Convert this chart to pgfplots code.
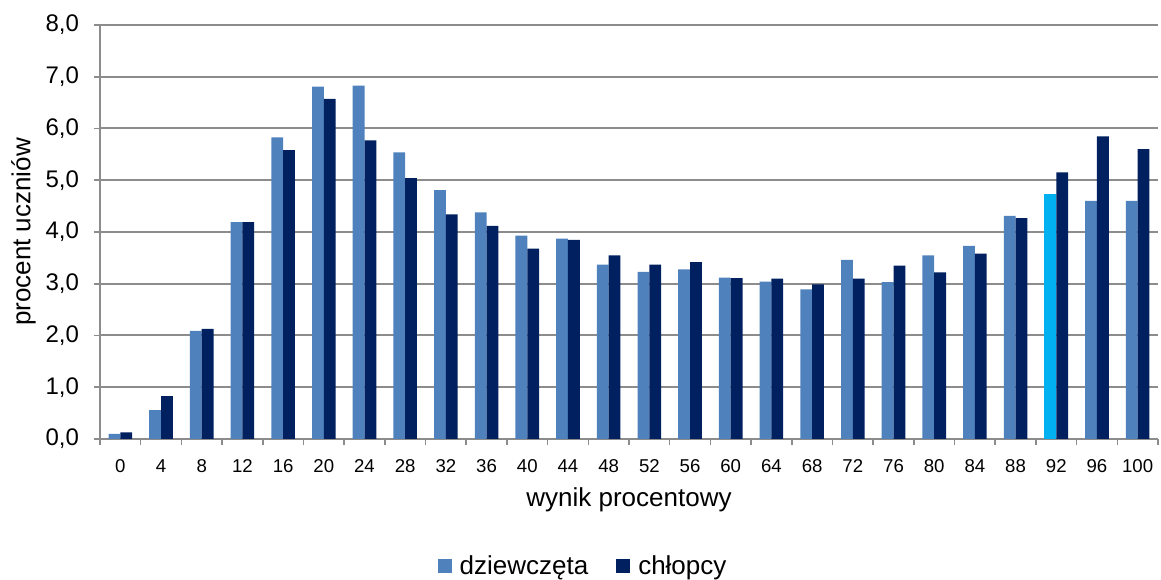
\documentclass[border=0pt]{standalone}
\usepackage{fontspec}
\setmainfont{Liberation Sans}
\usepackage{pgfplots}
\pgfplotsset{compat=1.18}
\usepackage{pgfplotstable}

\definecolor{girls}{HTML}{4F81BD}
\definecolor{boys}{HTML}{002060}
\definecolor{hilite}{HTML}{00B0F0}
\definecolor{gridc}{HTML}{8C8C8C}

% wynik, dziewczeta, chlopcy
\pgfplotstableread{
x  girls boys
0  0.10  0.13
1  0.56  0.83
2  2.09  2.13
3  4.19  4.19
4  5.83  5.58
5  6.81  6.57
6  6.83  5.77
7  5.54  5.04
8  4.81  4.34
9  4.38  4.12
10 3.93  3.68
11 3.87  3.85
12 3.37  3.55
13 3.23  3.37
14 3.28  3.42
15 3.12  3.11
16 3.04  3.10
17 2.89  2.99
18 3.46  3.10
19 3.03  3.35
20 3.55  3.22
21 3.73  3.58
22 4.31  4.27
23 4.73  5.15
24 4.60  5.85
25 4.60  5.60
}\wyniki

\begin{document}
\begin{tikzpicture}
\begin{axis}[
  scale only axis,
  width=529pt, height=207pt,
  xmin=-0.5, xmax=25.5,
  ymin=0, ymax=8,
  ytick={0,1,...,8},
  xtick={0,...,25},
  xticklabels={0,4,8,12,16,20,24,28,32,36,40,44,48,52,56,60,64,68,72,76,80,84,88,92,96,100},
  minor xtick={-0.5,0.5,...,25.5},
  major x tick style={draw=none},
  minor tick length=3pt,
  major tick length=3pt,
  tick align=outside,
  tick pos=left,
  tick style={gridc, line width=0.8pt},
  axis x line*=bottom,
  axis y line*=left,
  axis line style={gridc, line width=1pt},
  ymajorgrids,
  grid style={gridc, line width=1pt},
  yticklabel style={font=\fontsize{12}{14}\selectfont, xshift=-4pt, /pgf/number format/.cd, fixed, fixed zerofill, precision=1, use comma, assume math mode=true},
  xticklabel style={font=\fontsize{9.3}{11}\selectfont, text height=7pt, text depth=0pt, yshift=-3pt},
  xlabel={wynik procentowy},
  ylabel={procent uczniów},
  label style={font=\fontsize{13}{15}\selectfont},
  xlabel style={yshift=-1pt},
  ylabel style={yshift=-2pt},
  bar width=0.29,
  legend style={at={(0.4575,-0.307)}, anchor=center, draw=none, legend columns=2,
    font=\fontsize{13}{15}\selectfont,
    /tikz/every odd column/.append style={column sep=2pt},
    /tikz/every even column/.append style={column sep=12pt}},
  legend image code/.code={\fill[#1] (0pt,-3.5pt) rectangle (7pt,3.5pt);},
]
\addplot[ybar, bar shift=-0.145, fill=girls, draw=none] table[x=x, y=girls] {\wyniki};
\addplot[ybar, bar shift=0.145, fill=boys, draw=none] table[x=x, y=boys] {\wyniki};
\addplot[ybar, bar shift=-0.145, fill=hilite, draw=none, forget plot] coordinates {(23,4.73)};
\legend{dziewczęta, chłopcy}
\end{axis}
\pgfresetboundingbox
\path[use as bounding box] ([xshift=-50pt,yshift=-70.5pt]current axis.south west) rectangle ([xshift=1.5pt,yshift=12.5pt]current axis.north east);
\end{tikzpicture}
\end{document}
